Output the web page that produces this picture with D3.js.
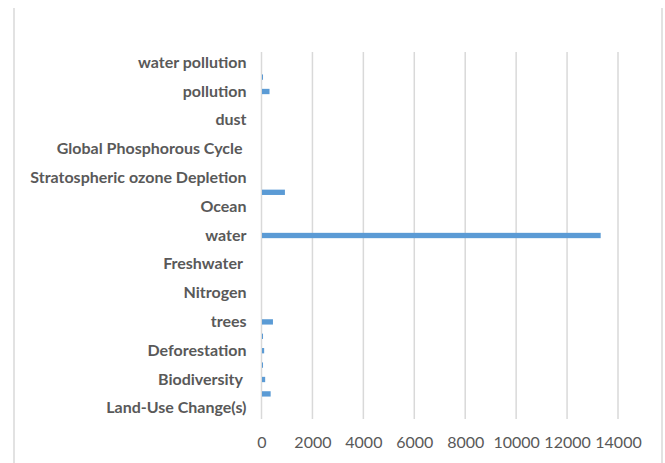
<!DOCTYPE html>
<html>
<head>
<meta charset="utf-8">
<script src="https://cdn.jsdelivr.net/npm/d3@7"></script>
<style>
  html, body { margin: 0; padding: 0; background: #fff; }
  svg { display: block; }
  .cat text { white-space: pre; }
</style>
</head>
<body>
<svg id="chart" width="665" height="463"></svg>
<script>
// Categories from top to bottom; unnamed rows are unlabeled on the axis.
const categories = [
  "water pollution", "", "pollution", "", "dust", "",
  "Global Phosphorous Cycle ", "", "Stratospheric ozone Depletion", "",
  "Ocean", "", "water", "", "Freshwater ", "", "Nitrogen", "",
  "trees", "", "Deforestation", "", "Biodiversity ", "", "Land-Use Change(s)"
];
const values = [
  0, 40, 295, 0, 0, 0,
  0, 0, 0, 900,
  0, 0, 13300, 0, 0, 0, 0, 0,
  430, 40, 85, 40, 125, 340, 0
];
const xTicks = [0, 2000, 4000, 6000, 8000, 10000, 12000, 14000];

const svg = d3.select("#chart");
const W = 665, H = 463;
const plot = { left: 261.5, right: 618, top: 55.5, bottom: 415.5 };
const gridTop = 52, gridBottom = 419;

// Frame lines at the chart's left and right edges
svg.append("g").selectAll("line")
  .data([14, 662])
  .join("line")
  .attr("x1", d => d).attr("x2", d => d)
  .attr("y1", 8).attr("y2", H)
  .attr("stroke", "#d9d9d9").attr("stroke-width", 1.5);

const x = d3.scaleLinear().domain([0, 14000]).range([plot.left, plot.right]);
const y = d3.scaleBand()
  .domain(d3.range(categories.length))
  .range([plot.top, plot.bottom])
  .paddingInner(0.63).paddingOuter(0.315);

// Vertical gridlines
svg.append("g").selectAll("line")
  .data(xTicks)
  .join("line")
  .attr("x1", d => x(d)).attr("x2", d => x(d))
  .attr("y1", gridTop).attr("y2", gridBottom)
  .attr("stroke", "#d9d9d9").attr("stroke-width", 1.5);

// Bars
svg.append("g").selectAll("rect")
  .data(values)
  .join("rect")
  .attr("x", x(0) + 0.5)
  .attr("y", (d, i) => y(i))
  .attr("width", d => Math.max(0, x(d) - x(0)))
  .attr("height", y.bandwidth())
  .attr("fill", "#5b9bd5");

// Category axis (every other row carries a label)
const labelled = d3.range(categories.length).filter(i => categories[i] !== "");
const yAxis = d3.axisLeft(y)
  .tickValues(labelled)
  .tickFormat(i => categories[i])
  .tickSize(0).tickPadding(15);
const gy = svg.append("g").attr("class", "cat")
  .attr("transform", `translate(${plot.left},0)`)
  .call(yAxis);
gy.select(".domain").remove();
gy.selectAll("text")
  .attr("fill", "#595959")
  .style("font-family", "Lato, 'Open Sans', sans-serif")
  .style("font-weight", "bold")
  .style("font-size", "16px");

// Value axis
const xAxis = d3.axisBottom(x).tickValues(xTicks).tickFormat(d3.format("d"))
  .tickSize(0).tickPadding(0);
const gx = svg.append("g")
  .attr("transform", `translate(0,437)`)
  .call(xAxis);
gx.select(".domain").remove();
gx.selectAll("text")
  .attr("fill", "#595959")
  .style("font-family", "Lato, 'Open Sans', sans-serif")
  .style("font-size", "16px");
</script>
</body>
</html>
